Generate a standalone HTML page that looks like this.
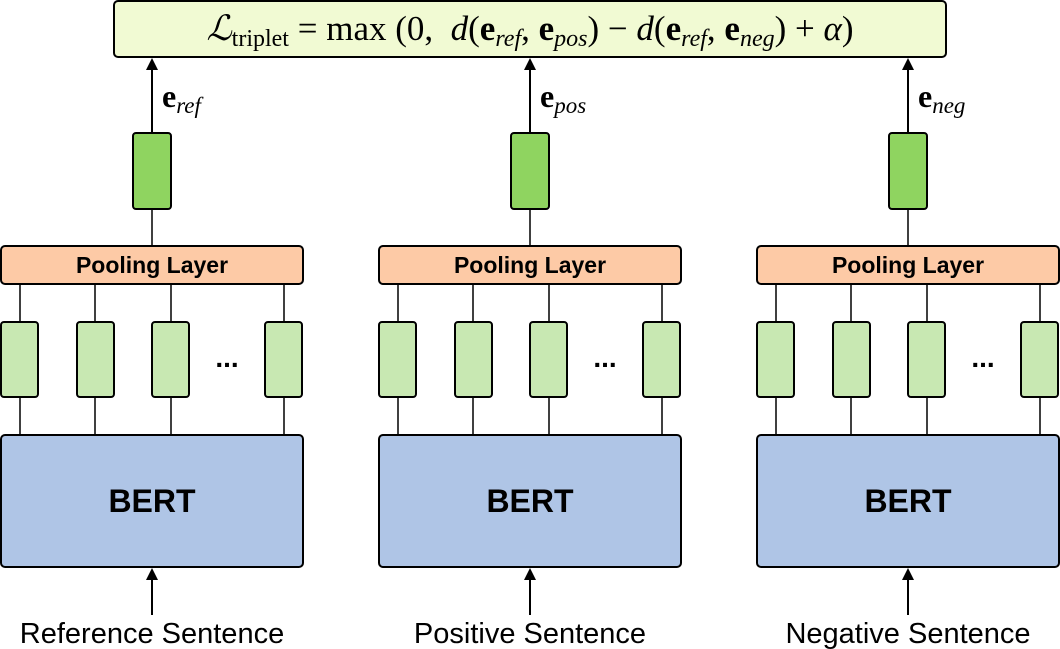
<!DOCTYPE html>
<html><head><meta charset="utf-8"><style>
body{margin:0;background:#fff;width:1060px;height:649px;overflow:hidden;position:relative;font-family:"Liberation Sans",sans-serif}
svg{position:absolute;left:0;top:0}
.f{position:absolute;left:114px;top:1px;width:832px;height:56px;line-height:56px;text-align:center;font-family:"Liberation Serif",serif;font-size:35px;white-space:nowrap}
.f i{font-style:italic}
.f b{font-weight:bold}
.f sub{font-size:24px;vertical-align:-6px;line-height:0}
.lab{position:absolute;font-family:"Liberation Serif",serif;font-size:32px;white-space:nowrap}
.lab sub{font-size:23px;font-style:italic;vertical-align:-6px;line-height:0}
</style></head><body>
<svg width="1060" height="649" viewBox="0 0 1060 649">
<rect x="114" y="1" width="832" height="56" rx="4" fill="#f1fad3" stroke="#000" stroke-width="2"/>
<g id="p">
<line x1="152" y1="133" x2="152" y2="66" stroke="#000" stroke-width="2"/>
<polygon points="146,70 152,58 158,70" fill="#000"/>
<line x1="152" y1="209" x2="152" y2="246" stroke="#000" stroke-width="1.5"/>
<rect x="133" y="133" width="38" height="76" rx="3" fill="#8fd460" stroke="#000" stroke-width="2"/>
<rect x="1" y="246" width="302" height="38" rx="4" fill="#fdcaa6" stroke="#000" stroke-width="2"/>
<text x="152" y="273" text-anchor="middle" font-family="Liberation Sans" font-weight="bold" font-size="23">Pooling Layer</text>
<g stroke="#000" stroke-width="1.5">
<line x1="20" y1="284" x2="20" y2="435"/><line x1="95" y1="284" x2="95" y2="435"/>
<line x1="171" y1="284" x2="171" y2="435"/><line x1="284" y1="284" x2="284" y2="435"/>
</g>
<g fill="#c8e8b2" stroke="#000" stroke-width="2">
<rect x="1" y="322" width="37" height="75" rx="3"/><rect x="77" y="322" width="37" height="75" rx="3"/>
<rect x="152" y="322" width="37" height="75" rx="3"/><rect x="265" y="322" width="37" height="75" rx="3"/>
</g>
<text x="227" y="367" text-anchor="middle" font-family="Liberation Sans" font-weight="bold" font-size="28">...</text>
<rect x="1" y="435" width="302" height="132" rx="4" fill="#afc5e6" stroke="#000" stroke-width="2"/>
<text x="152" y="512" text-anchor="middle" font-family="Liberation Sans" font-weight="bold" font-size="32">BERT</text>
<line x1="152" y1="615" x2="152" y2="576" stroke="#000" stroke-width="2"/>
<polygon points="146,580 152,568 158,580" fill="#000"/>
</g>
<use href="#p" x="378"/>
<use href="#p" x="756"/>
<g font-family="Liberation Sans" font-size="29" text-anchor="middle">
<text x="152" y="643">Reference Sentence</text>
<text x="530" y="643">Positive Sentence</text>
<text x="908" y="643">Negative Sentence</text>
</g>
</svg>
<div class="f"><i>ℒ</i><sub>triplet</sub> = max (0,&nbsp; <i>d</i>(<b>e</b><sub><i>ref</i></sub>, <b>e</b><sub><i>pos</i></sub>) − <i>d</i>(<b>e</b><sub><i>ref</i></sub>, <b>e</b><sub><i>neg</i></sub>) + <i>α</i>)</div>
<div class="lab" style="left:162px;top:78px"><b>e</b><sub>ref</sub></div>
<div class="lab" style="left:540px;top:78px"><b>e</b><sub>pos</sub></div>
<div class="lab" style="left:918px;top:78px"><b>e</b><sub>neg</sub></div>
</body></html>
